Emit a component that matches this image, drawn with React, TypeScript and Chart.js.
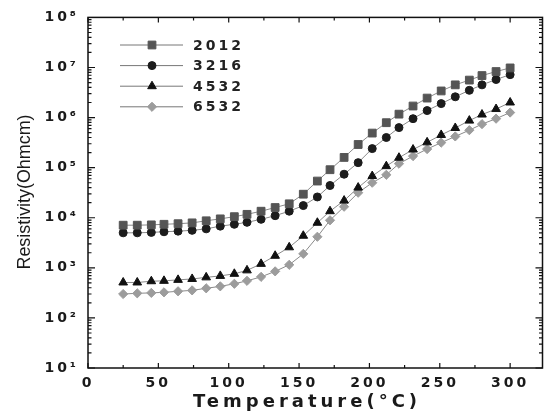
import React, { useEffect, useRef } from "react";
import { Chart, registerables } from "chart.js";
import { drawPoint } from "chart.js/helpers";

Chart.register(...registerables);

// Temperature (°C)
const temperatures = [25, 35, 45, 54, 64, 74, 84, 94, 104, 113, 123, 133, 143, 153, 163, 172, 182, 192, 202, 212, 221, 231, 241, 251, 261, 271, 280, 290, 300];

// Resistivity (Ohm·cm)
const resistivity2012 = [7100, 7100, 7200, 7400, 7600, 7900, 8700, 9500, 10500, 11700, 13500, 16000, 19000, 29500, 54000, 91000, 160000, 290000, 490000, 790000, 1170000, 1700000, 2450000, 3400000, 4500000, 5600000, 6900000, 8300000, 9800000];
const resistivity3216 = [5000, 5000, 5100, 5250, 5400, 5600, 6000, 6800, 7400, 8100, 9300, 11000, 13500, 17500, 26000, 44000, 74000, 126000, 240000, 400000, 630000, 950000, 1380000, 1900000, 2600000, 3500000, 4500000, 5750000, 7200000];
const resistivity4532 = [510, 510, 540, 550, 575, 600, 645, 690, 760, 890, 1200, 1740, 2570, 4370, 7940, 13500, 22000, 40000, 68000, 107000, 158000, 230000, 320000, 450000, 620000, 870000, 1150000, 1480000, 2000000];
const resistivity6532 = [300, 310, 316, 324, 340, 355, 390, 427, 480, 550, 660, 850, 1150, 1900, 4170, 8900, 16600, 31600, 50000, 72000, 120000, 170000, 235000, 316000, 420000, 560000, 740000, 950000, 1260000];

const seriesLabels = ["2012", "3216", "4532", "6532"];
const seriesValues = [resistivity2012, resistivity3216, resistivity4532, resistivity6532];
const seriesColors = ["#555555", "#1c1c1c", "#111111", "#9c9c9c"];
const seriesStyles = ["rect", "circle", "triangle", "rectRot"];
const seriesRadius = [5.5, 4, 5, 4.6];

const xAxisTitle = "Temperature(°C)";
const yAxisTitle = "Resistivity(Ohmcm)";
const SUP = ["⁰", "¹", "²", "³", "⁴", "⁵", "⁶", "⁷", "⁸", "⁹"];

const framePlugin = {
  id: "frame",
  beforeDraw(chart: any) {
    chart.ctx.letterSpacing = "3px";
  },
  afterDraw(chart: any) {
    const { ctx, chartArea: a, scales } = chart;
    const xs = scales.x;
    const ys = scales.y;
    ctx.save();
    ctx.letterSpacing = "0px";
    ctx.strokeStyle = "#111";
    ctx.lineWidth = 1.5;
    ctx.strokeRect(a.left, a.top, a.right - a.left, a.bottom - a.top);

    // inner ticks
    ctx.lineWidth = 1.2;
    ctx.beginPath();
    for (let e = 1; e <= 7; e++) {
      for (let m = 1; m <= 9; m++) {
        const py = ys.getPixelForValue(m * Math.pow(10, e));
        const len = m === 1 ? 7 : 3.5;
        ctx.moveTo(a.left, py);
        ctx.lineTo(a.left + len, py);
        ctx.moveTo(a.right, py);
        ctx.lineTo(a.right - len, py);
      }
    }
    xs.ticks.forEach((t: any) => {
      if (t.value > 300) return;
      const px = xs.getPixelForValue(t.value);
      const len = t.value % 50 === 0 ? 5 : 3;
      ctx.moveTo(px, a.bottom);
      ctx.lineTo(px, a.bottom - len);
      ctx.moveTo(px, a.top);
      ctx.lineTo(px, a.top + len);
    });
    ctx.stroke();

    // legend
    chart.data.datasets.forEach((ds: any, i: number) => {
      const ry = 45 + i * 20.6;
      ctx.strokeStyle = "#777";
      ctx.lineWidth = 1;
      ctx.beginPath();
      ctx.moveTo(120, ry);
      ctx.lineTo(183, ry);
      ctx.stroke();
      ctx.fillStyle = ds.pointBackgroundColor;
      ctx.strokeStyle = ds.pointBorderColor;
      drawPoint(ctx, { pointStyle: ds.pointStyle, radius: ds.pointRadius, rotation: 0, borderWidth: 1 }, 152, ry);
      ctx.fillStyle = "#222";
      ctx.font = "bold 14px 'DejaVu Sans'";
      ctx.letterSpacing = "3px";
      ctx.textAlign = "left";
      ctx.textBaseline = "middle";
      ctx.fillText(ds.label, 193, ry + 1);
      ctx.letterSpacing = "0px";
    });

    // x title
    ctx.fillStyle = "#1a1a1a";
    ctx.font = "bold 18px 'DejaVu Sans'";
    ctx.letterSpacing = "4px";
    ctx.textAlign = "left";
    ctx.textBaseline = "middle";
    const w = ctx.measureText(xAxisTitle).width;
    ctx.fillText(xAxisTitle, 307 - w / 2, 402);
    ctx.letterSpacing = "0px";

    // y title
    ctx.font = "19px 'Liberation Sans'";
    const wy = ctx.measureText(yAxisTitle).width;
    ctx.translate(25, 192);
    ctx.rotate(-Math.PI / 2);
    ctx.scale(155 / wy, 1);
    ctx.textAlign = "center";
    ctx.fillText(yAxisTitle, 0, 0);
    ctx.restore();
  },
};

export default function App() {
  const ref = useRef<HTMLCanvasElement | null>(null);
  useEffect(() => {
    if (!ref.current) return;
    const chart = new Chart(ref.current, {
      type: "line",
      data: {
        datasets: seriesLabels.map((label, i) => ({
          label,
          data: temperatures.map((t, j) => ({ x: t, y: seriesValues[i][j] })),
          borderColor: "#8a8a8a",
          borderWidth: 1,
          pointStyle: seriesStyles[i],
          pointRadius: seriesRadius[i],
          pointBackgroundColor: seriesColors[i],
          pointBorderColor: seriesColors[i],
          pointBorderWidth: 1,
          fill: false,
          tension: 0,
        })),
      },
      options: {
        animation: false,
        responsive: false,
        devicePixelRatio: 1,
        layout: { padding: { top: 16, right: 2, left: 0, bottom: 0 } },
        plugins: { legend: { display: false }, tooltip: { enabled: false } },
        scales: {
          x: {
            type: "linear",
            min: 0,
            max: 323,
            grid: { display: false, drawTicks: false },
            border: { display: false },
            afterFit: (s: any) => {
              s.height = 46;
            },
            ticks: {
              stepSize: 25,
              includeBounds: false,
              autoSkip: false,
              maxRotation: 0,
              padding: 7,
              color: "#1a1a1a",
              font: { family: "'DejaVu Sans'", size: 14, weight: "bold" },
              callback: (v: any) => (Number(v) % 50 === 0 && Number(v) <= 300 ? String(v) : ""),
            },
          },
          y: {
            type: "logarithmic",
            min: 10,
            max: 1e8,
            grid: { display: false, drawTicks: false },
            border: { display: false },
            afterFit: (s: any) => {
              s.width = 88;
            },
            ticks: {
              autoSkip: false,
              padding: 9,
              color: "#1a1a1a",
              font: { family: "'DejaVu Sans'", size: 14, weight: "bold" },
              callback: (v: any) => {
                const e = Math.log10(Number(v));
                const r = Math.round(e);
                return Math.abs(e - r) < 1e-9 ? "10" + SUP[r] : "";
              },
            },
          },
        },
      } as any,
      plugins: [framePlugin],
    });
    return () => chart.destroy();
  }, []);
  return <canvas ref={ref} width={549} height={414} style={{ position: "absolute", left: 0, top: 0 }} />;
}
